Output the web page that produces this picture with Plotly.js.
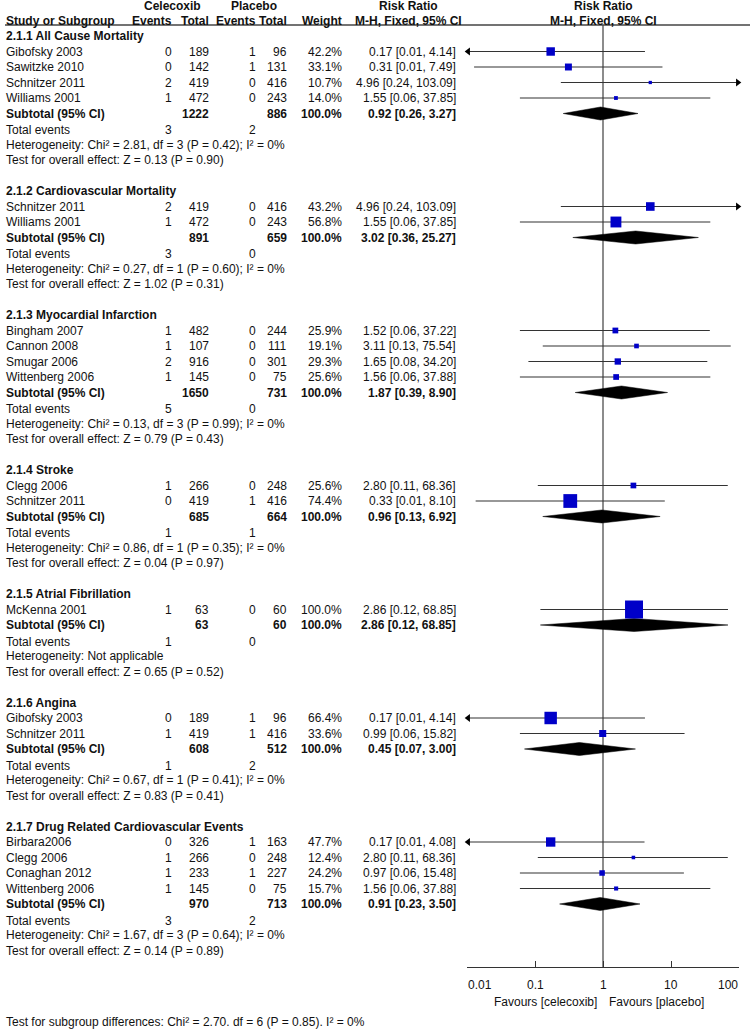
<!DOCTYPE html>
<html>
<head>
<meta charset="utf-8">
<script src="https://cdn.plot.ly/plotly-3.0.1.min.js"></script>
<style>html,body{margin:0;padding:0;background:#fff;}#chart{width:750px;height:1029px;}</style>
</head>
<body>
<div id="chart"></div>
<script>
// ---------- DATA ----------
const groupTitles = ["2.1.1 All Cause Mortality","2.1.2 Cardiovascular Mortality","2.1.3 Myocardial Infarction","2.1.4 Stroke","2.1.5 Atrial Fibrillation","2.1.6 Angina","2.1.7 Drug Related Cardiovascular Events"];
const studyNames = ["Gibofsky 2003","Sawitzke 2010","Schnitzer 2011","Williams 2001",
  "Schnitzer 2011","Williams 2001",
  "Bingham 2007","Cannon 2008","Smugar 2006","Wittenberg 2006",
  "Clegg 2006","Schnitzer 2011",
  "McKenna 2001",
  "Gibofsky 2003","Schnitzer 2011",
  "Birbara2006","Clegg 2006","Conaghan 2012","Wittenberg 2006"];
const studyGroup = [0,0,0,0, 1,1, 2,2,2,2, 3,3, 4, 5,5, 6,6,6,6];
const celEvents = [0,0,2,1, 2,1, 1,1,2,1, 1,0, 1, 0,1, 0,1,1,1];
const celTotal  = [189,142,419,472, 419,472, 482,107,916,145, 266,419, 63, 189,419, 326,266,233,145];
const plaEvents = [1,1,0,0, 0,0, 0,0,0,0, 0,1, 0, 1,1, 1,0,1,0];
const plaTotal  = [96,131,416,243, 416,243, 244,111,301,75, 248,416, 60, 96,416, 163,248,227,75];
const weights   = [42.2,33.1,10.7,14.0, 43.2,56.8, 25.9,19.1,29.3,25.6, 25.6,74.4, 100.0, 66.4,33.6, 47.7,12.4,24.2,15.7];
const rr        = [0.17,0.31,4.96,1.55, 4.96,1.55, 1.52,3.11,1.65,1.56, 2.80,0.33, 2.86, 0.17,0.99, 0.17,2.80,0.97,1.56];
const ciLow     = [0.007,0.0127,0.24,0.06, 0.24,0.06, 0.06,0.13,0.08,0.06, 0.11,0.0134, 0.12, 0.007,0.06, 0.007,0.11,0.06,0.06];
const ciHigh    = [4.14,7.49,103.09,37.85, 103.09,37.85, 37.22,75.54,34.20,37.88, 68.36,8.10, 68.85, 4.14,15.82, 4.08,68.36,15.48,37.88];

const subCelTotal = [1222,891,1650,685,63,608,970];
const subPlaTotal = [886,659,731,664,60,512,713];
const subRR   = [0.92,3.02,1.87,0.96,2.86,0.45,0.91];
const subLow  = [0.26,0.36,0.39,0.13,0.12,0.07,0.23];
const subHigh = [3.27,25.27,8.90,6.92,68.85,3.00,3.50];
const totCelEvents = [3,3,5,1,1,1,3];
const totPlaEvents = [2,0,0,1,0,2,2];
const hetChi = [2.81,0.27,0.13,0.86,null,0.67,1.67];
const hetDf  = [3,1,3,1,null,1,3];
const hetP   = [0.42,0.60,0.99,0.35,null,0.41,0.64];
const hetI2  = [0,0,0,0,null,0,0];
const testZ  = [0.13,1.02,0.79,0.04,0.65,0.83,0.14];
const testP  = [0.90,0.31,0.43,0.97,0.52,0.41,0.89];
const axisTicks = [0.01,0.1,1,10,100];
const axisTickText = ["0.01","0.1","1","10","100"];
const headerText = {cel:"Celecoxib", pla:"Placebo", rr:"Risk Ratio", mh:"M-H, Fixed, 95% CI"};
const subgroupDiff = "Test for subgroup differences: Chi² = 2.70. df = 6 (P = 0.85). I² = 0%";
const favLeft = "Favours [celecoxib]", favRight = "Favours [placebo]";

// ---------- LAYOUT HELPERS ----------
const W = 750, H = 1029;
const row0 = 36, rowH = 15.5;
const pyToRow = py => (py - row0) / rowH;
const FONT = "Liberation Sans, Arial, sans-serif";
const TXT = "#111";
const col = {name:5, celE:173, celT:210, plaE:257, plaT:288, w:343, ci:457};

const annotations = [];
function txt(px, r, text, anchor, bold, opts) {
  opts = opts || {};
  annotations.push({
    xref: opts.xref || "paper", yref:"y", x: opts.xref ? px : px / W, y: r,
    text: bold ? "<b>" + text + "</b>" : text,
    showarrow:false, xanchor: anchor || "left", yanchor:"middle",
    borderpad:0,
    font:{family: FONT, size: opts.size || 12, color: TXT}
  });
}
const f2 = v => v.toFixed(2);
const ciStr = (e,l,h) => f2(e) + " [" + f2(l) + ", " + f2(h) + "]";

// headers
txt(172, pyToRow(6), headerText.cel, "center", true);
txt(254, pyToRow(6), headerText.pla, "center", true);
txt(408, pyToRow(6), headerText.rr, "center", true);
txt(408, pyToRow(21), headerText.mh, "center", true);
txt(603, pyToRow(6), headerText.rr, "center", true);
txt(603, pyToRow(21), headerText.mh, "center", true);
txt(col.name, pyToRow(21), "Study or Subgroup", "left", true);
txt(col.celE, pyToRow(21), "Events", "right", true);
txt(col.celT, pyToRow(21), "Total", "right", true);
txt(col.plaE, pyToRow(21), "Events", "right", true);
txt(col.plaT, pyToRow(21), "Total", "right", true);
txt(col.w, pyToRow(21), "Weight", "right", true);

// rows
const ciX = [], ciY = [];
const sqX = [], sqY = [], sqS = [];
const arrL = {x:[],y:[]}, arrR = {x:[],y:[]};
const diaTraces = [];
let r = 0;
for (let g = 0; g < groupTitles.length; g++) {
  txt(col.name, r, groupTitles[g], "left", true);
  r++;
  for (let i = 0; i < studyNames.length; i++) {
    if (studyGroup[i] !== g) continue;
    txt(col.name, r, studyNames[i], "left", false);
    txt(col.celE, r, String(celEvents[i]), "right");
    txt(col.celT, r, String(celTotal[i]), "right");
    txt(col.plaE, r, String(plaEvents[i]), "right");
    txt(col.plaT, r, String(plaTotal[i]), "right");
    txt(col.w, r, weights[i].toFixed(1) + "%", "right");
    txt(col.ci, r, ciStr(rr[i], ciLow[i], ciHigh[i]), "right");
    ciX.push(ciLow[i], ciHigh[i], null); ciY.push(r, r, null);
    sqX.push(rr[i]); sqY.push(r); sqS.push(1.5 + 0.165 * weights[i]);
    if (ciLow[i] < 0.01) { arrL.x.push(0.0104); arrL.y.push(r); }
    if (ciHigh[i] > 100) { arrR.x.push(96); arrR.y.push(r); }
    r++;
  }
  // subtotal
  txt(col.name, r, "Subtotal (95% CI)", "left", true);
  txt(col.celT, r, String(subCelTotal[g]), "right", true);
  txt(col.plaT, r, String(subPlaTotal[g]), "right", true);
  txt(col.w, r, "100.0%", "right", true);
  txt(col.ci, r, ciStr(subRR[g], subLow[g], subHigh[g]), "right", true);
  const hh = 0.42;
  diaTraces.push({
    type:"scatter", mode:"lines", fill:"toself", fillcolor:"#000",
    x:[subLow[g], subRR[g], subHigh[g], subRR[g], subLow[g]],
    y:[r, r - hh, r, r + hh, r],
    line:{color:"#000", width:0.5}, hoverinfo:"skip", showlegend:false
  });
  r++;
  txt(col.name, r + 0.08, "Total events", "left");
  txt(col.celE, r + 0.08, String(totCelEvents[g]), "right");
  txt(col.plaE, r + 0.08, String(totPlaEvents[g]), "right");
  r++;
  const het = hetChi[g] === null ? "Heterogeneity: Not applicable"
    : "Heterogeneity: Chi² = " + f2(hetChi[g]) + ", df = " + hetDf[g] + " (P = " + f2(hetP[g]) + "); I² = " + hetI2[g] + "%";
  txt(col.name, r, het, "left");
  r++;
  txt(col.name, r, "Test for overall effect: Z = " + f2(testZ[g]) + " (P = " + f2(testP[g]) + ")", "left");
  r += 2;
}

// axis tick labels (first/last aligned inward as in the reference); log axis -> annotation x in log10 units
axisTicks.forEach((v, i) => {
  const anc = i === 0 ? "left" : (i === axisTicks.length - 1 ? "right" : "center");
  txt(Math.log10(v), pyToRow(985), axisTickText[i], anc, false, {xref:"x", size:12});
});
// bottom texts
txt(598, pyToRow(1002), favLeft, "right", false, {size:12});
txt(608, pyToRow(1002), favRight, "left", false, {size:12});
txt(col.name, pyToRow(1022), subgroupDiff, "left", false, {size:12});

const traces = [
  {type:"scatter", mode:"lines", x:ciX, y:ciY, line:{color:"#333", width:1.2}, hoverinfo:"skip", showlegend:false},
  ...diaTraces,
  {type:"scatter", mode:"markers", x:sqX, y:sqY, opacity:1, marker:{symbol:"square", size:sqS, color:"#0000c8", opacity:1, line:{width:0}}, hoverinfo:"skip", showlegend:false},
  {type:"scatter", mode:"markers", x:arrL.x, y:arrL.y, cliponaxis:false, marker:{symbol:"triangle-left", size:7, color:"#000", line:{width:0}}, hoverinfo:"skip", showlegend:false},
  {type:"scatter", mode:"markers", x:arrR.x, y:arrR.y, cliponaxis:false, marker:{symbol:"triangle-right", size:7, color:"#000", line:{width:0}}, hoverinfo:"skip", showlegend:false}
];

const axisY = 967;
const layout = {
  width: W, height: H,
  margin:{l:0, r:0, t:0, b:0, pad:0},
  paper_bgcolor:"#fff", plot_bgcolor:"rgba(0,0,0,0)",
  showlegend:false,
  xaxis:{
    type:"log", range:[-2, 2], domain:[467/W, 739/W],
    anchor:"free", position: 1 - axisY / H,
    showline:true, linecolor:"#333", linewidth:1,
    ticks:"inside", ticklen:6, tickwidth:1, tickcolor:"#333",
    tickmode:"array", tickvals: axisTicks, showticklabels:false,
    showgrid:false, zeroline:false, fixedrange:true
  },
  yaxis:{
    range:[pyToRow(H), pyToRow(0)], domain:[0,1],
    visible:false, showgrid:false, zeroline:false, fixedrange:true
  },
  shapes:[
    {type:"line", xref:"paper", yref:"y", x0:5/W, x1:1, y0:pyToRow(25), y1:pyToRow(25), line:{color:"#444", width:1.5}},
    {type:"line", xref:"x", yref:"y", x0:1, x1:1, y0:pyToRow(25), y1:pyToRow(axisY), line:{color:"#666", width:1.5}, layer:"below"}
  ],
  annotations: annotations
};
Plotly.newPlot("chart", traces, layout, {staticPlot:true, displayModeBar:false});
</script>
</body>
</html>
